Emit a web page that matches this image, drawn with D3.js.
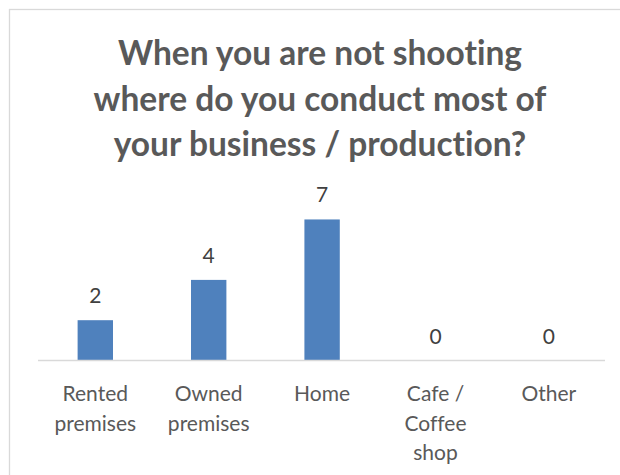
<!DOCTYPE html>
<html lang="en">
<head>
    <meta charset="UTF-8">
    <title>Business / production location</title>
    <style>
        body {
            margin: 0;
            background-color: #fff;
        }
        svg {
            display: block;
            font-family: 'Lato', 'Open Sans', sans-serif;
            font-variant-ligatures: none;
        }
    </style>
    <script src="https://d3js.org/d3.v7.min.js"></script>
</head>
<body>
    <div id="chart"></div>
    <script>
        // Chart data
        var titleLines = ["When you are not shooting", "where do you conduct most of", "your business / production?"];
        var categories = ["Rented premises", "Owned premises", "Home", "Cafe / Coffee shop", "Other"];
        var values = [2, 4, 7, 0, 0];

        var width = 620;
        var height = 475;

        var svg = d3.select("#chart")
            .append("svg")
            .attr("width", width)
            .attr("height", height);

        // chart frame (runs off the right and bottom edges)
        svg.append("rect")
            .attr("x", 9.5)
            .attr("y", 9.5)
            .attr("width", 700)
            .attr("height", 600)
            .style("fill", "none")
            .style("stroke", "#d9d9d9")
            .style("stroke-width", 1.3);

        // title
        svg.append("text")
            .attr("text-anchor", "middle")
            .style("font-size", "33.5px")
            .style("font-weight", "bold")
            .style("fill", "#595959")
            .selectAll("tspan")
            .data(titleLines)
            .enter()
            .append("tspan")
            .attr("x", 320)
            .attr("y", function(d, i) { return 65 + i * 45.5; })
            .text(function(d) { return d; });

        var x = d3.scaleBand()
            .domain(categories)
            .range([38.6, 605.6])
            .paddingInner(0.688)
            .paddingOuter(0.344);

        var y = d3.scaleLinear()
            .domain([0, 8])
            .range([360.5, 199.3]);

        // bars
        svg.selectAll("rect.bar")
            .data(values)
            .enter()
            .append("rect")
            .attr("class", "bar")
            .attr("x", function(d, i) { return x(categories[i]); })
            .attr("y", function(d) { return y(d); })
            .attr("width", x.bandwidth())
            .attr("height", function(d) { return y(0) - y(d); })
            .style("fill", "#4f81bd");

        // category axis
        var xAxis = svg.append("g")
            .attr("transform", "translate(0," + y(0) + ")")
            .call(d3.axisBottom(x).tickSize(0).tickSizeOuter(0).tickPadding(0));

        xAxis.select(".domain")
            .attr("d", "M38,0H605")
            .style("stroke", "#d9d9d9")
            .style("stroke-width", 1.5);

        xAxis.selectAll(".tick text").remove();

        // wrapped category labels
        var labelGroup = svg.append("g")
            .style("font-size", "21px")
            .style("fill", "#595959")
            .attr("text-anchor", "middle");

        categories.forEach(function(cat) {
            var cx = x(cat) + x.bandwidth() / 2;
            var t = labelGroup.append("text");
            var words = cat.split(" ");
            var lines = [];
            var line = [];
            var probe = t.append("tspan");
            words.forEach(function(w) {
                line.push(w);
                probe.text(line.join(" "));
                if (probe.node().getComputedTextLength() > 96 && line.length > 1) {
                    line.pop();
                    lines.push(line.join(" "));
                    line = [w];
                }
            });
            lines.push(line.join(" "));
            probe.remove();
            t.selectAll("tspan")
                .data(lines)
                .enter()
                .append("tspan")
                .attr("x", cx)
                .attr("y", function(d, i) { return 401 + i * 29.5; })
                .text(function(d) { return d; });
        });

        // value labels
        svg.selectAll("text.value")
            .data(values)
            .enter()
            .append("text")
            .attr("class", "value")
            .attr("x", function(d, i) { return x(categories[i]) + x.bandwidth() / 2; })
            .attr("y", function(d) { return y(d) - 17; })
            .attr("text-anchor", "middle")
            .style("font-size", "21px")
            .style("fill", "#404040")
            .text(function(d) { return d; });
    </script>
</body>
</html>
